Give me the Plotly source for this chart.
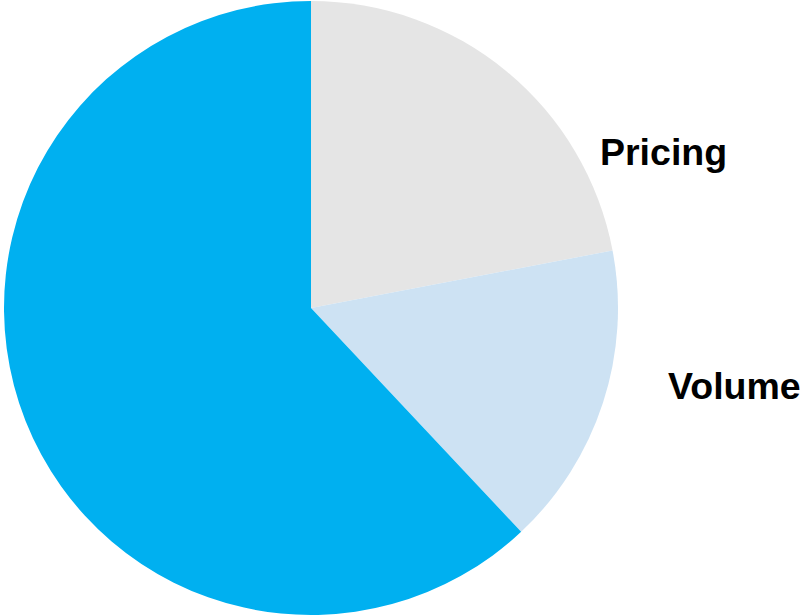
import plotly.graph_objects as go

# Revenue driver split
labels = ["Pricing", "Volume", "Other"]
values = [22, 16, 62]
shown_labels = ["Pricing", "Volume", ""]
colors = ["#E5E5E5", "#CDE2F3", "#00B0F0"]

W, H = 801, 616

fig = go.Figure(
    go.Pie(
        labels=labels,
        values=values,
        sort=False,
        direction="clockwise",
        rotation=0,
        textinfo="none",
        hoverinfo="label+percent",
        marker=dict(colors=colors, line=dict(width=0)),
        domain=dict(x=[4 / W, 618 / W], y=[1 / H, 615 / H]),
        showlegend=False,
    )
)

# Outside labels placed beside their slices
label_pos = [(598, 152), (666, 386)]
for name, (px, py) in zip(shown_labels, label_pos):
    if not name:
        continue
    fig.add_annotation(
        x=px / W, y=1 - py / H, xref="paper", yref="paper",
        text=f"<b>{name}</b>", showarrow=False,
        xanchor="left", yanchor="middle",
        font=dict(family="Liberation Sans, Arial, sans-serif", size=37.5, color="#000000"),
    )

fig.update_layout(
    width=W, height=H, autosize=False,
    margin=dict(l=0, r=0, t=0, b=0),
    paper_bgcolor="white", plot_bgcolor="white",
)

fig.write_html("out.html")
